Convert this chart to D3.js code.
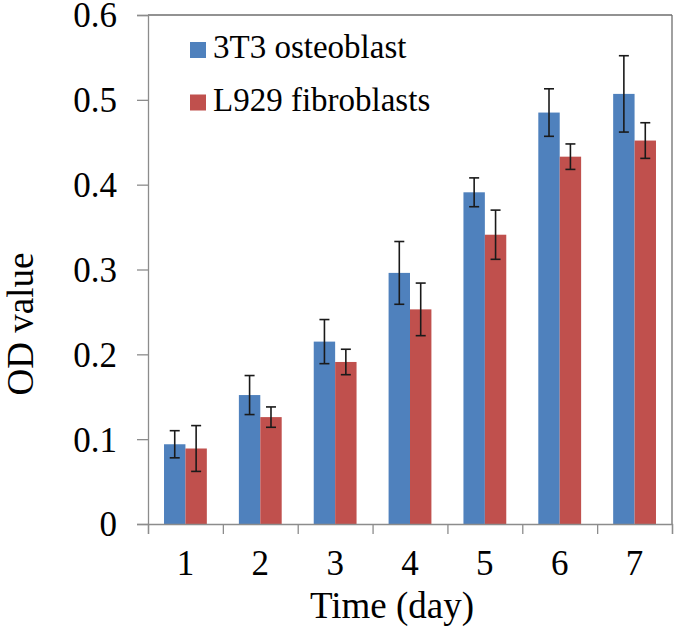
<!DOCTYPE html>
<html>
<head>
<meta charset="utf-8">
<script src="https://cdn.jsdelivr.net/npm/d3@7"></script>
<style>
  html, body { margin: 0; padding: 0; background: #fff; }
  svg { display: block; }
  text { font-family: "Liberation Serif", "Times New Roman", serif; fill: #000; }
</style>
</head>
<body>
<svg id="chart" width="675" height="630"></svg>
<script>
// ---- Data ----
const days = ["1", "2", "3", "4", "5", "6", "7"];
const seriesNames = ["3T3 osteoblast", "L929 fibroblasts"];
const osteoblastMean = [0.094, 0.152, 0.215, 0.296, 0.391, 0.485, 0.507];
const osteoblastErr  = [0.016, 0.023, 0.026, 0.037, 0.017, 0.028, 0.045];
const fibroblastMean = [0.089, 0.126, 0.191, 0.253, 0.341, 0.433, 0.452];
const fibroblastErr  = [0.027, 0.012, 0.015, 0.031, 0.029, 0.015, 0.021];
const yTicks = [0, 0.1, 0.2, 0.3, 0.4, 0.5, 0.6];
const seriesColors = ["#4F81BD", "#C0504D"];

(function () {
// ---- Layout ----
const svg = d3.select("#chart");
const pL = 148, pR = 672, pT = 15, pB = 524;
const serif = "'Liberation Serif', 'Times New Roman', serif";

const x0 = d3.scaleBand().domain(days).range([pL, pR])
  .paddingInner(0.428).paddingOuter(0.214);
const x1 = d3.scaleBand().domain(seriesNames).range([0, x0.bandwidth()]);
const y = d3.scaleLinear().domain([0, 0.6]).range([pB, pT]);
const xb = d3.scaleLinear().domain([0, days.length]).range([pL, pR]);

const rows = days.map((d, i) => ({
  day: d,
  values: [
    { s: seriesNames[0], v: osteoblastMean[i], e: osteoblastErr[i], c: seriesColors[0] },
    { s: seriesNames[1], v: fibroblastMean[i], e: fibroblastErr[i], c: seriesColors[1] }
  ]
}));

// plot border (top and right)
svg.append("line").attr("x1", pL).attr("x2", pR).attr("y1", pT).attr("y2", pT)
  .attr("stroke", "#6e6e6e").attr("stroke-width", 1.3);
svg.append("line").attr("x1", pR).attr("x2", pR).attr("y1", pT).attr("y2", pB)
  .attr("stroke", "#6e6e6e").attr("stroke-width", 1.3);

// bars
const groups = svg.append("g").selectAll("g").data(rows).join("g")
  .attr("transform", d => `translate(${x0(d.day)},0)`);
groups.selectAll("rect").data(d => d.values).join("rect")
  .attr("x", d => x1(d.s))
  .attr("y", d => y(d.v))
  .attr("width", x1.bandwidth())
  .attr("height", d => y(0) - y(d.v))
  .attr("fill", d => d.c);

// error bars
const capW = 5;
const eb = groups.selectAll("g.err").data(d => d.values).join("g").attr("class", "err")
  .attr("stroke", "#1a1a1a").attr("stroke-width", 1.6);
eb.append("line")
  .attr("x1", d => x1(d.s) + x1.bandwidth() / 2).attr("x2", d => x1(d.s) + x1.bandwidth() / 2)
  .attr("y1", d => y(d.v + d.e)).attr("y2", d => y(d.v - d.e));
eb.append("line")
  .attr("x1", d => x1(d.s) + x1.bandwidth() / 2 - capW).attr("x2", d => x1(d.s) + x1.bandwidth() / 2 + capW)
  .attr("y1", d => y(d.v + d.e)).attr("y2", d => y(d.v + d.e));
eb.append("line")
  .attr("x1", d => x1(d.s) + x1.bandwidth() / 2 - capW).attr("x2", d => x1(d.s) + x1.bandwidth() / 2 + capW)
  .attr("y1", d => y(d.v - d.e)).attr("y2", d => y(d.v - d.e));

// y axis
const yAxis = svg.append("g").attr("transform", `translate(${pL},0)`)
  .call(d3.axisLeft(y).tickValues(yTicks).tickSize(11).tickPadding(20)
    .tickFormat(d => d === 0 ? "0" : d3.format(".1f")(d)));
yAxis.select(".domain").attr("stroke", "#8c8c8c").attr("stroke-width", 1.3);
yAxis.selectAll(".tick line").attr("stroke", "#8c8c8c").attr("stroke-width", 1.3);
yAxis.selectAll(".tick text").attr("font-size", 35).attr("dy", "0.34em")
  .style("font-family", serif);

// x axis: tick marks at category boundaries
const xTickAxis = svg.append("g").attr("transform", `translate(0,${pB})`)
  .call(d3.axisBottom(xb).tickValues(d3.range(0, days.length + 1)).tickSize(10).tickFormat(""));
xTickAxis.select(".domain").attr("stroke", "#8c8c8c").attr("stroke-width", 1.3);
xTickAxis.selectAll(".tick line").attr("stroke", "#8c8c8c").attr("stroke-width", 1.3);

// x axis labels at category centers
const xLabelAxis = svg.append("g").attr("transform", `translate(0,${pB})`)
  .call(d3.axisBottom(x0).tickSize(0).tickPadding(26));
xLabelAxis.select(".domain").remove();
xLabelAxis.selectAll(".tick text").attr("font-size", 35)
  .style("font-family", serif);

// axis titles
svg.append("text").attr("x", 392).attr("y", 618)
  .attr("text-anchor", "middle").attr("font-size", 37).text("Time (day)");
svg.append("text").attr("transform", "translate(33,324) rotate(-90)")
  .attr("text-anchor", "middle").attr("font-size", 37).text("OD value");

// legend
const legend = svg.append("g").selectAll("g").data(seriesNames).join("g")
  .attr("transform", (d, i) => `translate(190,${42 + i * 52.5})`);
legend.append("rect").attr("width", 16).attr("height", 16)
  .attr("fill", (d, i) => seriesColors[i]);
legend.append("text").attr("x", 23).attr("y", 16).attr("font-size", 33).text(d => d);
})();
</script>
</body>
</html>
